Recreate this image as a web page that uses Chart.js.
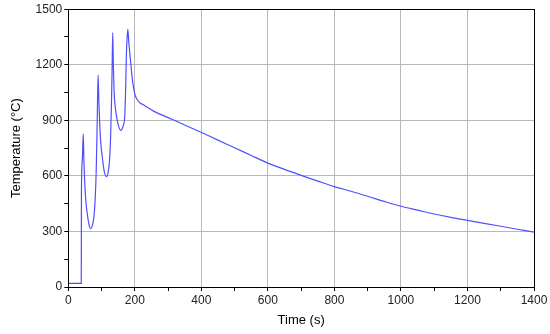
<!DOCTYPE html>
<html>
<head>
<meta charset="utf-8">
<script src="https://cdn.jsdelivr.net/npm/chart.js@4/dist/chart.umd.min.js"></script>
<style>
html,body{margin:0;padding:0;background:#fff;}
#wrap{width:550px;height:334px;}
</style>
</head>
<body>
<div id="wrap"><canvas id="c" width="550" height="334"></canvas></div>
<script>
const times = [0, 39, 39.5, 42, 45, 47, 50, 53, 57, 62, 67, 72, 77, 81, 84, 87, 89.5, 92, 94.5, 98, 102.5, 108, 114.5, 120, 124.5, 127, 129.5, 131.5, 133.5, 135.5, 137.6, 141, 145.7, 151, 157.7, 164, 170, 172.5, 174.7, 177, 179, 182, 186, 193, 200, 207, 215, 225, 255, 315, 350, 402, 450, 500, 550, 600, 650, 700, 750, 800, 850, 900, 950, 1000, 1050, 1100, 1150, 1200, 1250, 1300, 1350, 1400];
const temps = [20, 20, 510, 680, 827, 680, 542, 460, 397, 340, 315, 330, 378, 480, 633, 905, 1145, 1000, 878, 770, 697, 625, 596, 620, 697, 800, 969, 1150, 1373, 1200, 1060, 975, 915, 870, 846, 865, 933, 1080, 1260, 1350, 1391, 1320, 1242, 1115, 1042, 1012, 995, 984, 951, 903, 875, 833, 793, 752, 710, 669, 635, 603, 572, 542, 517, 490, 462, 436, 415, 394, 376, 360, 344, 328, 312, 296];
const xMajor = [0, 200, 400, 600, 800, 1000, 1200, 1400];
const yMajor = [0, 300, 600, 900, 1200, 1500];
const xTitle = 'Time (s)';
const yTitle = 'Temperature (°C)';

const points = times.map((t, i) => ({x: t, y: temps[i]}));

const frame = {
  id: 'frame',
  afterDraw(chart) {
    const a = chart.chartArea, ctx = chart.ctx;
    ctx.save();
    ctx.strokeStyle = '#000';
    ctx.lineWidth = 1;
    ctx.strokeRect(Math.round(a.left) + 0.5, Math.round(a.top) + 0.5, Math.round(a.right - a.left), Math.round(a.bottom - a.top));
    ctx.restore();
  }
};

new Chart(document.getElementById('c'), {
  type: 'line',
  data: {
    datasets: [{
      data: points,
      borderColor: '#4f4fff',
      borderWidth: 1.2,
      pointRadius: 0,
      fill: false,
      cubicInterpolationMode: 'monotone'
    }]
  },
  options: {
    responsive: false,
    animation: false,
    layout: {padding: {left: 9, right: 16, top: 7, bottom: 6}},
    plugins: {legend: {display: false}, tooltip: {enabled: false}},
    scales: {
      x: {
        type: 'linear', min: 0, max: 1400,
        border: {display: true, color: '#000', width: 1},
        grid: {
          color: c => (xMajor.includes(c.tick.value) ? '#b8b8b8' : 'rgba(0,0,0,0)'),
          tickColor: '#000', tickLength: 4, lineWidth: 1
        },
        ticks: {
          stepSize: 100, autoSkip: false, maxRotation: 0, color: '#222', padding: 2,
          font: {family: 'Liberation Sans, Arial', size: 12},
          callback: v => (xMajor.includes(v) ? String(v) : '')
        },
        title: {display: true, text: xTitle, color: '#000', font: {family: 'Liberation Sans, Arial', size: 13}, padding: {top: 3, bottom: 0}}
      },
      y: {
        type: 'linear', min: 0, max: 1500,
        border: {display: true, color: '#000', width: 1},
        grid: {
          color: c => (yMajor.includes(c.tick.value) ? '#b8b8b8' : 'rgba(0,0,0,0)'),
          tickColor: '#000', tickLength: 4, lineWidth: 1
        },
        ticks: {
          stepSize: 150, autoSkip: false, color: '#222', padding: 2,
          font: {family: 'Liberation Sans, Arial', size: 12},
          callback: v => (yMajor.includes(v) ? String(v) : '')
        },
        title: {display: true, text: yTitle, color: '#000', font: {family: 'Liberation Sans, Arial', size: 13}, padding: {top: 0, bottom: 9}}
      }
    }
  },
  plugins: [frame]
});
</script>
</body>
</html>
